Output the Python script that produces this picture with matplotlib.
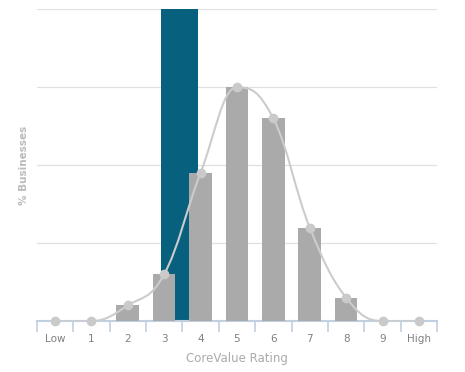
import matplotlib
matplotlib.use('Agg')
import matplotlib.pyplot as plt
from matplotlib.path import Path
from matplotlib.patches import PathPatch
import numpy as np

categories = ['Low', '1', '2', '3', '4', '5', '6', '7', '8', '9', 'High']
pct_businesses = [0, 0, 2, 6, 19, 30, 26, 12, 3, 0, 0]
your_rating = 3.42
your_value = 40


def spline_path(xs, ys, smoothing=1.5):
    # smooth curve through the points, same idea as a highcharts spline
    n = len(xs)
    left = [(xs[i], ys[i]) for i in range(n)]
    right = [(xs[i], ys[i]) for i in range(n)]
    denom = smoothing + 1
    for i in range(1, n - 1):
        x, y = xs[i], ys[i]
        lx = (smoothing * x + xs[i - 1]) / denom
        ly = (smoothing * y + ys[i - 1]) / denom
        rx = (smoothing * x + xs[i + 1]) / denom
        ry = (smoothing * y + ys[i + 1]) / denom
        if rx != lx:
            corr = (ry - ly) * (rx - x) / (rx - lx) + y - ry
            ly += corr
            ry += corr
        if ly > max(ys[i - 1], y):
            ly = max(ys[i - 1], y)
            ry = 2 * y - ly
        elif ly < min(ys[i - 1], y):
            ly = min(ys[i - 1], y)
            ry = 2 * y - ly
        if ry > max(ys[i + 1], y):
            ry = max(ys[i + 1], y)
            ly = 2 * y - ry
        elif ry < min(ys[i + 1], y):
            ry = min(ys[i + 1], y)
            ly = 2 * y - ry
        left[i] = (lx, ly)
        right[i] = (rx, ry)
    verts = [(xs[0], ys[0])]
    codes = [Path.MOVETO]
    for i in range(1, n):
        verts += [right[i - 1], left[i], (xs[i], ys[i])]
        codes += [Path.CURVE4] * 3
    return Path(verts, codes)


fig = plt.figure(figsize=(4.65, 3.72), dpi=100)
ax = fig.add_axes([0.079, 0.137, 0.861, 0.838])

x = np.arange(len(categories))

ax.bar(your_rating, your_value, width=1.0, color='#06607e', zorder=2)
ax.bar(x, pct_businesses, width=0.62, color='#aaaaaa', zorder=3)

curve = PathPatch(spline_path(list(x), pct_businesses), facecolor='none',
                  edgecolor='#cccccc', lw=1.5, zorder=4)
ax.add_patch(curve)
ax.plot(x, pct_businesses, 'o', color='#cacaca', markersize=6, zorder=5,
        clip_on=False)

ax.set_xlim(-0.5, len(categories) - 0.5)
ax.set_ylim(0, 40)
ax.set_yticks([10, 20, 30, 40])
ax.set_yticklabels([])
ax.tick_params(axis='y', length=0)
ax.grid(axis='y', color='#e0e0e0', lw=0.9)
ax.set_axisbelow(True)

ax.set_xticks(x)
ax.set_xticklabels(categories, color='#808080', fontsize=7.5)
ax.set_xticks(np.arange(-0.5, len(categories)), minor=True)
ax.tick_params(axis='x', which='major', length=0, pad=9)
ax.tick_params(axis='x', which='minor', length=8, color='#c0d0e0', width=1.2)

for s in ['top', 'right', 'left']:
    ax.spines[s].set_visible(False)
ax.spines['bottom'].set_color('#c0d0e0')
ax.spines['bottom'].set_linewidth(1.5)

ax.set_xlabel('CoreValue Rating', color='#aaaaaa', fontsize=8.5, labelpad=6)
ax.set_ylabel('% Businesses', color='#bbbbbb', fontsize=7.5, fontweight='bold',
              labelpad=2)

fig.savefig('out.png', dpi=100)
